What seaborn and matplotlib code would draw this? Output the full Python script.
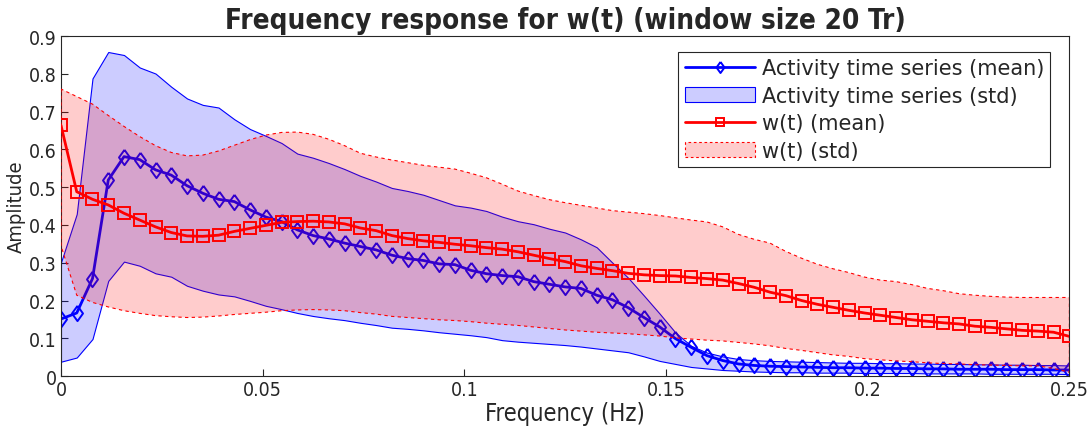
import numpy as np
import pandas as pd
import matplotlib
matplotlib.use("Agg")
import matplotlib.pyplot as plt
from matplotlib.lines import Line2D
import seaborn as sns

# Frequency axis: 65 bins from 0 to 0.25 Hz
freq = np.linspace(0, 0.25, 65)

act_mean = [0.151, 0.167, 0.258, 0.519, 0.581, 0.573, 0.546, 0.532, 0.504, 0.484,
            0.468, 0.462, 0.440, 0.421, 0.409, 0.387, 0.372, 0.363, 0.352, 0.343,
            0.334, 0.320, 0.311, 0.306, 0.297, 0.295, 0.280, 0.271, 0.266, 0.263,
            0.250, 0.243, 0.236, 0.232, 0.214, 0.202, 0.181, 0.155, 0.130, 0.099,
            0.076, 0.054, 0.041, 0.032, 0.028, 0.026, 0.025, 0.024, 0.023, 0.022,
            0.022, 0.021, 0.021, 0.020, 0.020, 0.019, 0.019, 0.018, 0.018, 0.018,
            0.017, 0.017, 0.017, 0.016, 0.016]
act_upper = [0.301, 0.429, 0.788, 0.858, 0.850, 0.817, 0.801, 0.766, 0.735, 0.718,
             0.711, 0.680, 0.654, 0.636, 0.617, 0.589, 0.578, 0.564, 0.548, 0.530,
             0.515, 0.498, 0.490, 0.480, 0.466, 0.452, 0.446, 0.437, 0.422, 0.410,
             0.402, 0.390, 0.380, 0.362, 0.341, 0.300, 0.260, 0.213, 0.165, 0.115,
             0.080, 0.062, 0.052, 0.045, 0.042, 0.040, 0.039, 0.038, 0.037, 0.036,
             0.035, 0.035, 0.034, 0.034, 0.033, 0.033, 0.032, 0.032, 0.031, 0.031,
             0.030, 0.030, 0.029, 0.029, 0.028]
act_lower = [0.038, 0.049, 0.098, 0.252, 0.303, 0.292, 0.272, 0.263, 0.239, 0.226,
             0.216, 0.211, 0.199, 0.186, 0.177, 0.167, 0.159, 0.153, 0.148, 0.141,
             0.135, 0.128, 0.125, 0.121, 0.116, 0.112, 0.108, 0.103, 0.095, 0.091,
             0.088, 0.085, 0.082, 0.078, 0.073, 0.068, 0.063, 0.052, 0.040, 0.032,
             0.024, 0.020, 0.016, 0.014, 0.012, 0.011, 0.010, 0.010, 0.009, 0.009,
             0.009, 0.008, 0.008, 0.008, 0.008, 0.007, 0.007, 0.007, 0.007, 0.006,
             0.006, 0.006, 0.006, 0.006, 0.005]

w_mean = [0.664, 0.488, 0.468, 0.453, 0.431, 0.413, 0.395, 0.380, 0.371, 0.370,
          0.373, 0.383, 0.391, 0.399, 0.407, 0.409, 0.410, 0.408, 0.403, 0.392,
          0.385, 0.372, 0.364, 0.358, 0.354, 0.349, 0.345, 0.340, 0.336, 0.329,
          0.320, 0.311, 0.303, 0.292, 0.285, 0.279, 0.272, 0.268, 0.266, 0.265,
          0.261, 0.258, 0.254, 0.245, 0.235, 0.222, 0.213, 0.200, 0.190, 0.182,
          0.174, 0.167, 0.161, 0.155, 0.149, 0.145, 0.141, 0.138, 0.132, 0.129,
          0.125, 0.121, 0.119, 0.116, 0.105]
w_upper = [0.760, 0.740, 0.720, 0.690, 0.661, 0.634, 0.610, 0.592, 0.583, 0.585,
           0.596, 0.611, 0.626, 0.638, 0.645, 0.646, 0.640, 0.627, 0.610, 0.590,
           0.580, 0.572, 0.565, 0.558, 0.553, 0.548, 0.537, 0.525, 0.508, 0.490,
           0.478, 0.467, 0.459, 0.452, 0.445, 0.438, 0.434, 0.430, 0.425, 0.419,
           0.413, 0.408, 0.395, 0.375, 0.362, 0.352, 0.330, 0.312, 0.296, 0.284,
           0.274, 0.262, 0.254, 0.250, 0.242, 0.232, 0.226, 0.218, 0.214, 0.211,
           0.209, 0.208, 0.208, 0.208, 0.208]
w_lower = [0.345, 0.214, 0.195, 0.183, 0.173, 0.166, 0.160, 0.157, 0.155, 0.156,
           0.159, 0.163, 0.166, 0.169, 0.173, 0.175, 0.176, 0.175, 0.173, 0.168,
           0.164, 0.158, 0.155, 0.152, 0.149, 0.147, 0.144, 0.140, 0.137, 0.134,
           0.130, 0.126, 0.122, 0.119, 0.116, 0.114, 0.112, 0.109, 0.106, 0.101,
           0.098, 0.095, 0.093, 0.089, 0.085, 0.080, 0.073, 0.068, 0.062, 0.056,
           0.052, 0.046, 0.043, 0.040, 0.038, 0.035, 0.033, 0.032, 0.030, 0.029,
           0.028, 0.027, 0.027, 0.020, 0.010]

xticks = [0, 0.05, 0.1, 0.15, 0.2, 0.25]
xticklabels = ["0", "0.05", "0.1", "0.15", "0.2", "0.25"]
yticks = [0, 0.1, 0.2, 0.3, 0.4, 0.5, 0.6, 0.7, 0.8, 0.9]
yticklabels = ["0", "0.1", "0.2", "0.3", "0.4", "0.5", "0.6", "0.7", "0.8", "0.9"]

labels = ["Activity time series (mean)", "Activity time series (std)",
          "w(t) (mean)", "w(t) (std)"]
title = "Frequency response for w(t) (window size 20 Tr)"

df = pd.DataFrame({"freq": freq, "act_mean": act_mean, "act_upper": act_upper,
                   "act_lower": act_lower, "w_mean": w_mean, "w_upper": w_upper,
                   "w_lower": w_lower})

sns.set_style("white")
plt.rcParams["font.family"] = ["DejaVu Sans"]

fig = plt.figure(figsize=(10.89, 4.27), dpi=100)
ax = fig.add_axes([0.056, 0.117, 0.926, 0.796])

blue = (0, 0, 1)
red = (1, 0, 0)
diamond = [(0, 1), (0.72, 0), (0, -1), (-0.72, 0), (0, 1)]

h_afill = ax.fill_between(df["freq"], df["act_lower"], df["act_upper"],
                          facecolor=(0, 0, 1, 0.2), edgecolor=blue, linewidth=0.8,
                          zorder=1)
sns.lineplot(data=df, x="freq", y="act_mean", ax=ax, color=blue, linewidth=2,
             marker=diamond, markersize=11, markerfacecolor="none",
             markeredgecolor=blue, markeredgewidth=1.4, zorder=2)
h_wfill = ax.fill_between(df["freq"], df["w_lower"], df["w_upper"],
                          facecolor=(1, 0, 0, 0.2), edgecolor=red, linewidth=0.8,
                          linestyle=(0, (3, 3)), zorder=3)
sns.lineplot(data=df, x="freq", y="w_mean", ax=ax, color=red, linewidth=2,
             marker="s", markersize=9, markerfacecolor="none",
             markeredgecolor=red, markeredgewidth=1.4, zorder=4)

# legend proxies with smaller markers (as in the reference)
h_aline = Line2D([], [], color=blue, linewidth=2, marker=diamond, markersize=8,
                 markerfacecolor="none", markeredgecolor=blue, markeredgewidth=1.4)
h_wline = Line2D([], [], color=red, linewidth=2, marker="s", markersize=6,
                 markerfacecolor="none", markeredgecolor=red, markeredgewidth=1.4)

ax.set_xlim(0, 0.25)
ax.set_ylim(0, 0.9)
ax.set_xticks(xticks)
ax.set_xticklabels(xticklabels)
ax.set_yticks(yticks)
ax.set_yticklabels(yticklabels)
ax.tick_params(direction="in", length=5, width=0.8, colors="#262626",
               labelsize=14, top=False, right=False, bottom=True, left=True,
               pad=3)
for lab in ax.get_xticklabels() + ax.get_yticklabels():
    lab.set_fontstretch("condensed")
    lab.set_color("#262626")
for s in ax.spines.values():
    s.set_color("#262626")
    s.set_linewidth(0.8)
    s.set_visible(True)

ax.set_xlabel("Frequency (Hz)", fontsize=17, color="#262626",
              fontstretch="condensed", labelpad=1)
ax.set_ylabel("Amplitude", fontsize=14.5, color="#262626",
              fontstretch="condensed", labelpad=2)
ax.set_title(title, fontsize=20, fontweight="bold", fontstretch="condensed",
             pad=6)

leg = ax.legend([h_aline, h_afill, h_wline, h_wfill], labels, loc="upper right",
                bbox_to_anchor=(0.981, 0.953), fontsize=15, frameon=True,
                fancybox=False, framealpha=1, edgecolor="#262626",
                handlelength=3.4, borderpad=0.3, labelspacing=0.36,
                handletextpad=0.3, borderaxespad=0)
leg.get_frame().set_linewidth(0.8)

fig.savefig("out.png", dpi=100)
